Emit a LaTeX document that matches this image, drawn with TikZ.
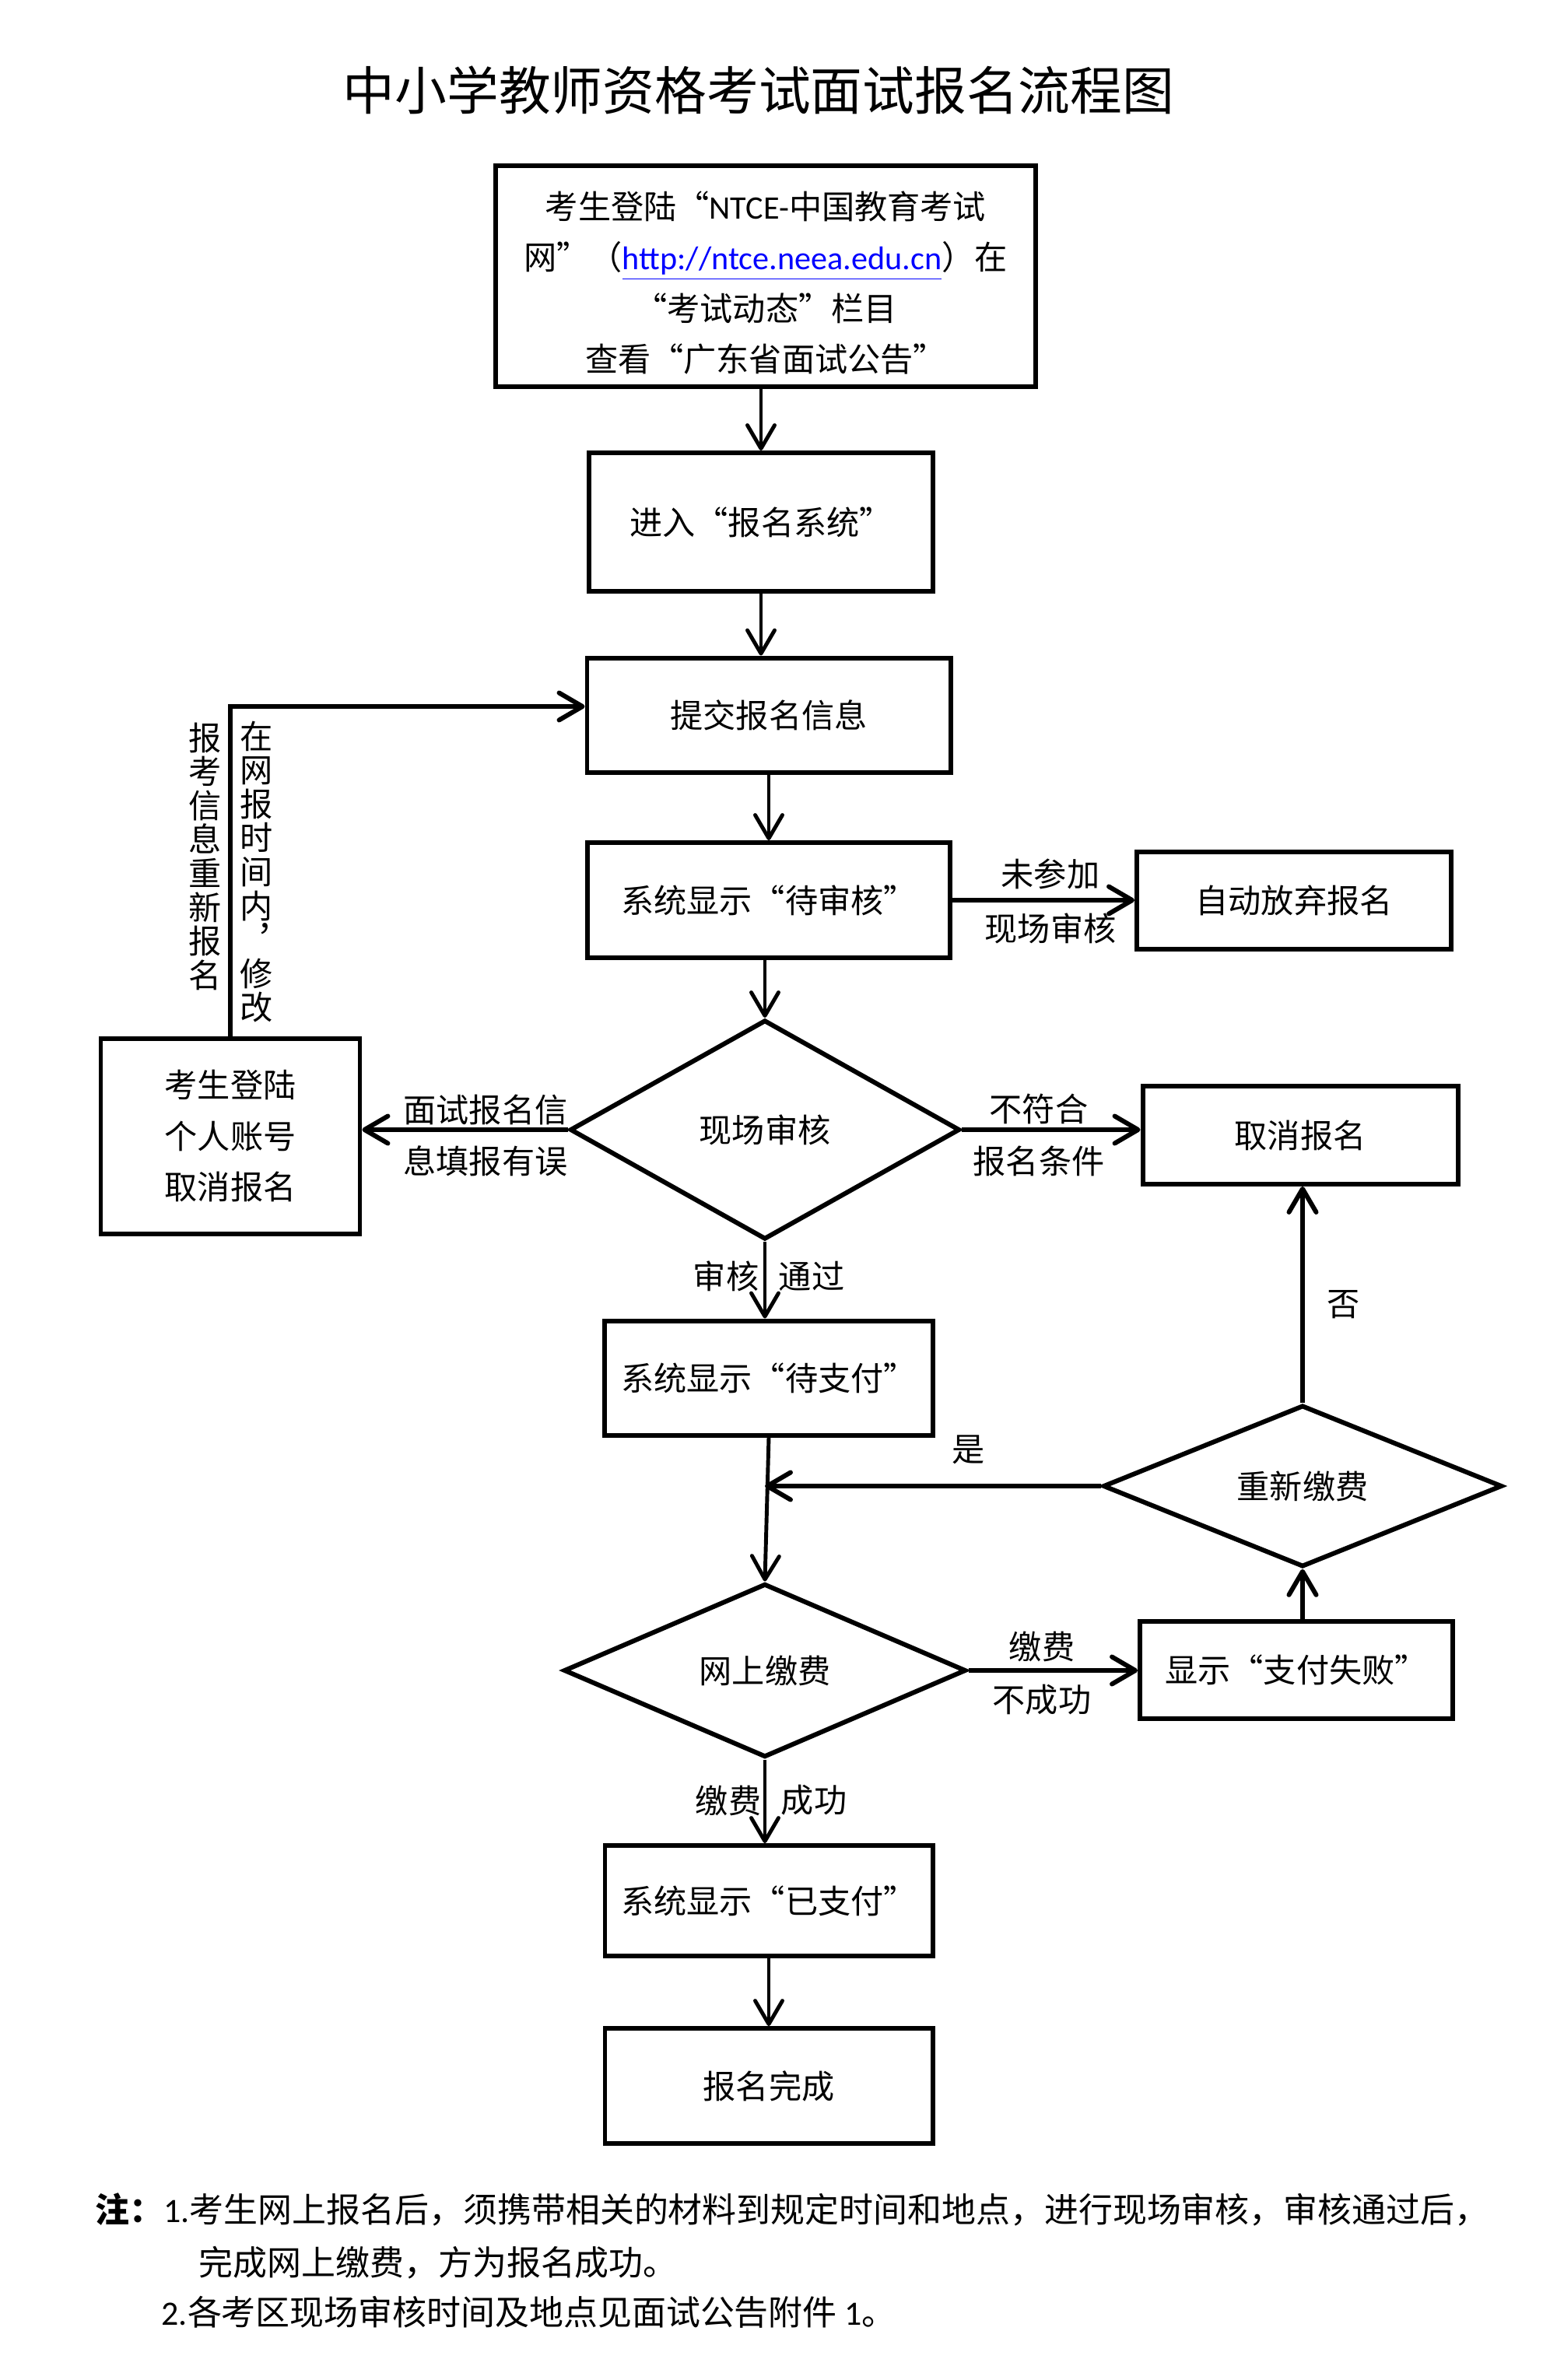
\documentclass[tikz,border=0pt]{standalone}
\usepackage{fontspec}
\setmainfont{Noto Sans CJK SC}
\newfontfamily\latinfont{Carlito}
\usetikzlibrary{shapes.geometric,arrows.meta}
\tikzset{
  stepbox/.style={draw,line width=1.7pt,inner sep=0pt,align=center},
  choice/.style={diamond,draw,line width=1.7pt,inner sep=0pt},
  flow/.style={->,line width=1.4pt},
  sideflow/.style={->,line width=1.7pt},
  vtext/.style={anchor=north,inner sep=0pt,align=center,font=\fontsize{12pt}{12.4pt}\selectfont},
  note/.style={anchor=west,inner sep=0pt,font=\fontsize{12.5pt}{15pt}\selectfont}
}
\begin{document}
\begin{tikzpicture}[>={Straight Barb[length=3mm,width=3.5mm,round]},font=\fontsize{12pt}{18.6pt}\selectfont]
\useasboundingbox (0,0) rectangle (19.92,-30.59);
\node (title) at (9.75,-1.16) {\fontsize{19pt}{19pt}\selectfont 中小学教师资格考试面试报名流程图};
\node[stepbox,minimum width=6.94cm,minimum height=2.84cm] (visit) at (9.84,-3.55)
  {\rule{0pt}{15pt}考生登陆“{\latinfont NTCE-}中国教育考试\\网”（{\color{blue}\underline{\latinfont http://ntce.neea.edu.cn}}）在\\“考试动态”栏目\\查看“广东省面试公告”};
\node[stepbox,minimum width=4.42cm,minimum height=1.78cm] (enter) at (9.78,-6.71) {进入“报名系统”};
\node[stepbox,minimum width=4.67cm,minimum height=1.47cm] (submit) at (9.88,-9.19) {提交报名信息};
\node[stepbox,minimum width=4.66cm,minimum height=1.48cm] (pending) at (9.88,-11.57) {系统显示“待审核”};
\node[stepbox,minimum width=4.04cm,minimum height=1.25cm] (abandon) at (16.63,-11.575) {自动放弃报名};
\node[choice,minimum width=5.01cm,minimum height=2.82cm] (review) at (9.83,-14.52) {现场审核};
\node[stepbox,minimum width=3.33cm,minimum height=2.51cm] (relogin) at (2.96,-14.6) {考生登陆\\个人账号\\取消报名};
\node[stepbox,minimum width=4.05cm,minimum height=1.26cm] (cancel) at (16.71,-14.59) {取消报名};
\node[stepbox,minimum width=4.22cm,minimum height=1.47cm] (topay) at (9.88,-17.71) {系统显示“待支付”};
\node[choice,minimum width=5.13cm,minimum height=2.01cm] (repay) at (16.74,-19.1) {重新缴费};
\node[choice,minimum width=5.17cm,minimum height=2.23cm] (payonline) at (9.83,-21.47) {网上缴费};
\node[stepbox,minimum width=4.02cm,minimum height=1.25cm] (failed) at (16.66,-21.465) {显示“支付失败”};
\node[stepbox,minimum width=4.21cm,minimum height=1.42cm] (paid) at (9.88,-24.43) {系统显示“已支付”};
\node[stepbox,minimum width=4.21cm,minimum height=1.48cm] (done) at (9.88,-26.81) {报名完成};

\draw[flow] (visit.south -| enter) -- (enter.north);
\draw[flow] (enter) -- (enter |- submit.north);
\draw[flow] (submit) -- (submit |- pending.north);
\draw[flow] (pending.south -| review) -- (review.north);
\draw[sideflow] (pending.east) -- (pending.east -| abandon.west);
\draw[sideflow] (review.west) -- (review.west -| relogin.east);
\draw[sideflow] (review.east) -- (review.east -| cancel.west);
\draw[sideflow] (relogin.north) |- ([yshift=1.1mm]submit.west);
\draw[flow] (review.south) -- (review.south |- topay.north);
\draw[flow] (topay.south) -- (payonline.north);
\draw[sideflow] (repay.west) -- (repay.west -| payonline.north);
\draw[sideflow] (repay.north) -- (repay.north |- cancel.south);
\draw[sideflow] (payonline.east) -- (payonline.east -| failed.west);
\draw[sideflow] (failed.north -| repay.south) -- (repay.south);
\draw[flow] (payonline.south) -- (payonline.south |- paid.north);
\draw[flow] (paid) -- (done);

\node (l1a) at (13.5,-11.23) {未参加}; \node (l1b) at (13.5,-11.93) {现场审核};
\node (l2a) at (6.24,-14.26) {面试报名信}; \node (l2b) at (6.24,-14.92) {息填报有误};
\node (l3a) at (13.35,-14.25) {不符合}; \node (l3b) at (13.35,-14.92) {报名条件};
\node (l4a) at (9.33,-16.4) {审核}; \node (l4b) at (10.43,-16.4) {通过};
\node (l5) at (17.27,-16.77) {否};
\node (l6) at (12.45,-18.63) {是};
\node (l7a) at (13.39,-21.16) {缴费}; \node (l7b) at (13.39,-21.85) {不成功};
\node (l8a) at (9.36,-23.14) {缴费}; \node (l8b) at (10.46,-23.14) {成功};
\node[vtext] (l9a) at (2.64,-9.28) {报\\考\\信\\息\\重\\新\\报\\名};
\node[vtext] (l9b) at (3.3,-9.26) {在\\网\\报\\时\\间\\内\\︐\\修\\改};

\node[note] (n1) at (1.22,-28.4) {{\bfseries 注：}{\latinfont 1.}考生网上报名后，须携带相关的材料到规定时间和地点，进行现场审核，审核通过后，};
\node[note] (n2) at (2.55,-29.08) {完成网上缴费，方为报名成功。};
\node[note] (n3) at (2.07,-29.72) {{\latinfont 2.}各考区现场审核时间及地点见面试公告附件 {\latinfont 1}。};
\end{tikzpicture}
\end{document}
